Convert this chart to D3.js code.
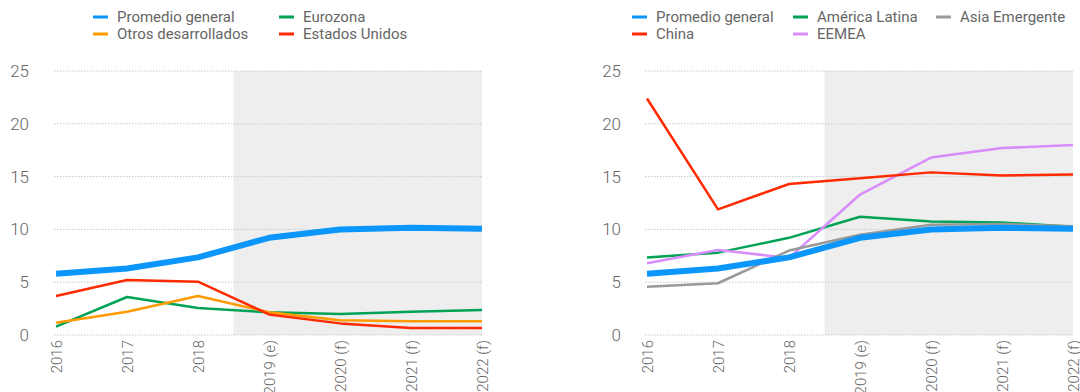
<!DOCTYPE html>
<html>
<head>
<meta charset="utf-8">
<script src="https://cdn.jsdelivr.net/npm/d3@7"></script>
<style>
  html, body { margin: 0; padding: 0; background: #fff; }
  svg { display: block; font-family: Roboto, "Noto Sans", sans-serif; }
</style>
</head>
<body>
<svg id="chart" width="1080" height="392"></svg>
<script>
// Years on the x axis
const years = ["2016", "2017", "2018", "2019 (e)", "2020 (f)", "2021 (f)", "2022 (f)"];
const yTicks = [0, 5, 10, 15, 20, 25];
// First year that is an estimate/forecast (shaded area starts half a step before it)
const forecastStart = "2019 (e)";

// Developed markets panel
const promedioGeneral   = [5.8, 6.3, 7.35, 9.2, 10.0, 10.15, 10.07];
const eurozona          = [0.8, 3.6, 2.55, 2.15, 2.0, 2.2, 2.37];
const otrosDesarrollados = [1.17, 2.2, 3.7, 2.15, 1.4, 1.3, 1.3];
const estadosUnidos     = [3.7, 5.2, 5.05, 1.95, 1.1, 0.66, 0.66];

// Emerging markets panel
const americaLatina  = [7.35, 7.8, 9.2, 11.2, 10.75, 10.65, 10.25];
const asiaEmergente  = [4.57, 4.9, 8.0, 9.5, 10.45, 10.5, 10.3];
const china          = [22.4, 11.9, 14.3, 14.85, 15.4, 15.1, 15.2];
const eemea          = [6.8, 8.05, 7.3, 13.3, 16.8, 17.7, 18.0];

const C = {
  blue: "#0a96fa", green: "#00a356", orange: "#ff9a00",
  red: "#ff2a00", purple: "#d98cfb", grey: "#999999"
};

const svg = d3.select("#chart");

function panel(opts) {
  const g = svg.append("g");
  const x = d3.scalePoint().domain(years).range([opts.x0, opts.x1]);
  const y = d3.scaleLinear().domain([0, 25]).range([335, 71]);
  const step = x.step();

  // forecast shading
  g.append("rect")
    .attr("x", x(forecastStart) - step / 2)
    .attr("y", y(25))
    .attr("width", x(years[years.length - 1]) - x(forecastStart) + step / 2)
    .attr("height", y(0) - y(25))
    .attr("fill", "#eeeeee");

  // horizontal dotted grid
  g.selectAll(".grid").data(yTicks).join("line")
    .attr("x1", opts.x0 - 2).attr("x2", opts.x1)
    .attr("y1", d => y(d)).attr("y2", d => y(d))
    .attr("stroke", "#c8c8c8").attr("stroke-width", 1)
    .attr("stroke-dasharray", "1.5,1.5");

  // y axis labels
  const yAxis = g.append("g")
    .attr("transform", `translate(${opts.yLabelX},0)`)
    .call(d3.axisLeft(y).tickValues(yTicks).tickSize(0).tickPadding(0));
  yAxis.select(".domain").remove();
  yAxis.selectAll("text")
    .attr("fill", "#666").attr("font-size", 17)
    .attr("font-family", "Roboto, sans-serif")
    .attr("font-weight", 300);

  // x axis labels, rotated
  const xAxis = g.append("g")
    .attr("transform", `translate(0,${y(0) + 5})`)
    .call(d3.axisBottom(x).tickSize(0).tickPadding(0));
  xAxis.select(".domain").remove();
  xAxis.selectAll("text")
    .attr("fill", "#666").attr("font-size", 15)
    .attr("font-family", "Roboto, sans-serif")
    .attr("font-weight", 300)
    .attr("text-anchor", "end")
    .attr("dy", "0.35em")
    .attr("transform", "rotate(-90)");

  const line = d3.line().x((d, i) => x(years[i])).y(d => y(d));
  opts.series.forEach(s => {
    g.append("path")
      .datum(s.values)
      .attr("d", line)
      .attr("fill", "none")
      .attr("stroke", s.color)
      .attr("stroke-width", s.width)
      .attr("stroke-linejoin", "round");
  });

  // legend
  const lg = g.append("g");
  opts.legend.forEach(it => {
    lg.append("line")
      .attr("x1", it.x).attr("x2", it.x + 15)
      .attr("y1", it.y).attr("y2", it.y)
      .attr("stroke", it.color).attr("stroke-width", 3);
    lg.append("text")
      .attr("x", it.x + 24).attr("y", it.y)
      .attr("dy", "0.35em")
      .attr("fill", "#666").attr("font-size", 15)
      .attr("font-family", "Roboto, sans-serif")
      .text(it.label);
  });
}

panel({
  x0: 56, x1: 482, yLabelX: 29,
  series: [
    { values: eurozona, color: C.green, width: 2.5 },
    { values: otrosDesarrollados, color: C.orange, width: 2.5 },
    { values: estadosUnidos, color: C.red, width: 2.5 },
    { values: promedioGeneral, color: C.blue, width: 6 }
  ],
  legend: [
    { label: "Promedio general", color: C.blue, x: 93, y: 17 },
    { label: "Otros desarrollados", color: C.orange, x: 93, y: 34 },
    { label: "Eurozona", color: C.green, x: 279, y: 17 },
    { label: "Estados Unidos", color: C.red, x: 279, y: 34 }
  ]
});

panel({
  x0: 647, x1: 1073, yLabelX: 621,
  series: [
    { values: americaLatina, color: C.green, width: 2.5 },
    { values: eemea, color: C.purple, width: 2.5 },
    { values: asiaEmergente, color: C.grey, width: 2.5 },
    { values: china, color: C.red, width: 2.5 },
    { values: promedioGeneral, color: C.blue, width: 6 }
  ],
  legend: [
    { label: "Promedio general", color: C.blue, x: 632, y: 17 },
    { label: "China", color: C.red, x: 632, y: 34 },
    { label: "América Latina", color: C.green, x: 793, y: 17 },
    { label: "EEMEA", color: C.purple, x: 793, y: 34 },
    { label: "Asia Emergente", color: C.grey, x: 936, y: 17 }
  ]
});
</script>
</body>
</html>
